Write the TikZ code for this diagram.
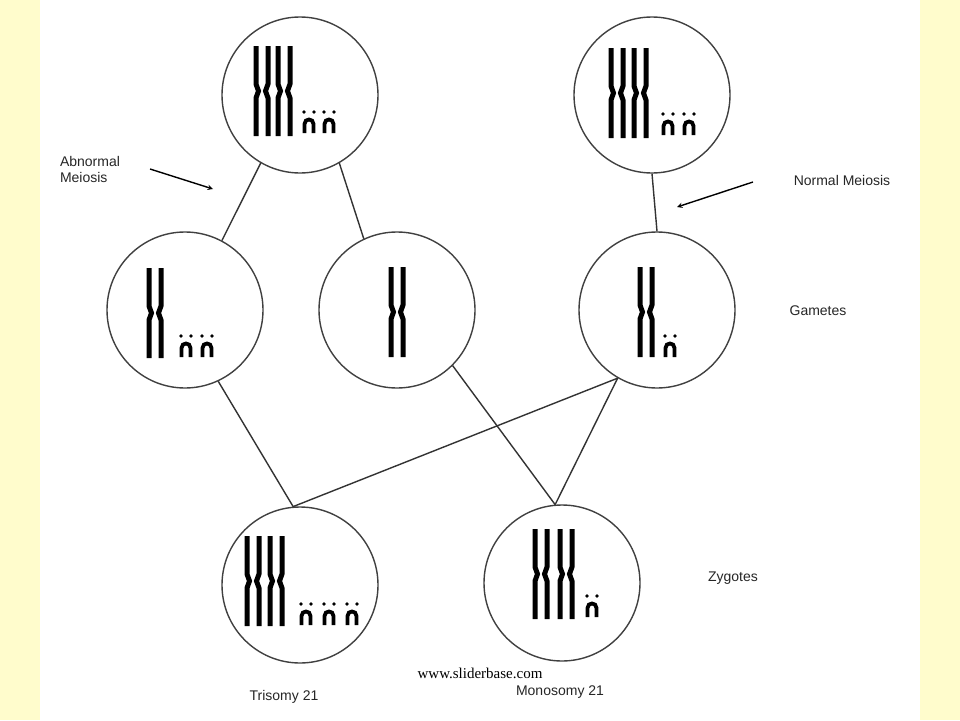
\documentclass[tikz,border=0pt]{standalone}
\usepackage{fontspec}
\setmainfont{Liberation Sans}
\newfontfamily\serifw{Liberation Serif}
\begin{document}
\begin{tikzpicture}[x=1pt,y=-1pt,
  cell/.style={draw=black!75,line width=1.4pt,circle,minimum size=156pt,inner sep=0pt},
  conn/.style={draw=black!80,line width=1.4pt},
  lbl/.style={font=\fontsize{14}{16}\selectfont,text=black!85,align=left},
  bigc/.pic={\foreach \s in {-1,1}{\draw[line width=5pt] (\s*6,-45) -- (\s*6,-7) -- (\s*3.5,0) -- (\s*6,7) -- (\s*6,45);}},
  smallc/.pic={\draw[line width=3.8pt] (-4.5,0) -- (-4.5,-9) .. controls (-4.5,-15) and (4.5,-15) .. (4.5,-9) -- (4.5,0);
    \fill (-5,-21) circle (1.8); \fill (5,-21) circle (1.8);}
]
\fill[yellow!20] (0,0) rectangle (960,720);
\fill[white] (40,0) rectangle (920,720);
\useasboundingbox (0,0) rectangle (960,720);

\node[cell] (tl) at (300,95) {};
\node[cell] (tr) at (652,95) {};
\node[cell] (ml) at (185,310) {};
\node[cell] (mm) at (397,310) {};
\node[cell] (mr) at (657,310) {};
\node[cell] (bl) at (300,585) {};
\node[cell] (br) at (562,583) {};

% chromosomes
\pic at (262,91) {bigc}; \pic at (284,91) {bigc};
\pic at (309,133) {smallc}; \pic at (329,133) {smallc};
\pic at (617,93) {bigc}; \pic at (640,93) {bigc};
\pic at (668,135) {smallc}; \pic at (689,135) {smallc};
\pic at (155,313) {bigc};
\pic at (186,357) {smallc}; \pic at (207,357) {smallc};
\pic at (397,312) {bigc};
\pic at (646,312) {bigc};
\pic at (670,357) {smallc};
\pic at (253,581) {bigc}; \pic at (276,581) {bigc};
\pic at (306,625) {smallc}; \pic at (329,625) {smallc}; \pic at (352,625) {smallc};
\pic at (541,574) {bigc}; \pic at (566,574) {bigc};
\pic at (592,617) {smallc};

% connectors
\draw[conn] (tl.240) -- (ml.62);
\draw[conn] (tl.300) -- (mm.115);
\draw[conn] (tr.270) -- (mr.90);
\draw[conn] (ml.295) -- (bl.95);
\draw[conn] (mr.240) -- (bl.95);
\draw[conn] (mr.240) -- (br.95);
\draw[conn] (mm.315) -- (br.95);

% labels
\node[lbl] (abn) at (90,169) {Abnormal\\Meiosis};
\coordinate (abnA) at (150,169);
\coordinate (abnB) at (213,189);
\draw[line width=1.4pt,-stealth] (abnA) -- (abnB);
\node[lbl] (nm) at (842,180) {Normal Meiosis};
\coordinate (nmA) at (753,182);
\coordinate (nmB) at (677,207);
\draw[line width=1.4pt,-stealth] (nmA) -- (nmB);
\node[lbl] (gam) at (818,311) {Gametes};
\node[lbl] (zyg) at (733,578) {Zygotes};
\node[lbl] (tri) at (284,697) {Trisomy 21};
\node[lbl] (mono) at (560,692) {Monosomy 21};
\node[font=\serifw\fontsize{15}{17}\selectfont] (web) at (480,673) {www.sliderbase.com};
\end{tikzpicture}
\end{document}
